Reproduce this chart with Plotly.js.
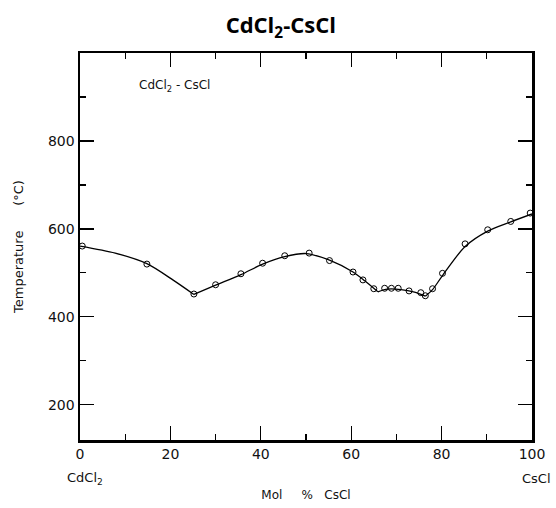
<!DOCTYPE html>
<html><head><meta charset="utf-8">
<script src="https://cdn.plot.ly/plotly-3.0.1.min.js"></script>
<style>html,body{margin:0;padding:0;background:#fff}#chart{width:556px;height:508px}</style>
</head><body><div id="chart"></div>
<script>
// Measured liquidus points (Mol % CsCl, Temperature °C)
const pointsX = [0.5, 14.8, 25.2, 30.0, 35.6, 40.4, 45.3, 50.7, 55.2, 60.4, 62.6, 65.0, 67.4, 68.9, 70.4, 72.8, 75.4, 76.4, 78.0, 80.2, 85.2, 90.2, 95.3, 99.6];
const pointsT = [561, 520, 452, 473, 498, 522, 539, 545, 528, 502, 484, 464, 465, 465, 465, 459, 455, 448, 464, 499, 566, 598, 617, 636];

// Drawn liquidus branches
const branchAX = [0, 7.8, 14.8, 20.7, 25.2];
const branchAT = [561, 545, 521, 483, 451];
const branchBX = [25.2, 30.0, 35.6, 40.4, 45.3, 50.0, 55.2, 60.4, 63.0, 65.9];
const branchBT = [451, 472, 496, 520, 537, 544, 529, 502, 482, 457];
const branchCX = [65.9, 68.0, 71.0, 74.0, 76.4];
const branchCT = [457, 463, 462, 456, 447];
const branchDX = [76.4, 78.0, 80.2, 85.2, 90.2, 95.3, 100];
const branchDT = [447, 462, 494, 560, 595, 616, 634];

const xTickVals = [0, 20, 40, 60, 80, 100];
const xTickText = ['0', '20', '40', '60', '80', '100'];
const yTickVals = [200, 400, 600, 800];
const yTickText = ['200', '400', '600', '800'];

const lineStyle = {color: '#000', width: 1.3, shape: 'spline', smoothing: 0.8};
function branch(x, y) {
  return {x: x, y: y, type: 'scatter', mode: 'lines', line: lineStyle, hoverinfo: 'skip', showlegend: false};
}
const data = [
  branch(branchAX, branchAT),
  branch(branchBX, branchBT),
  branch(branchCX, branchCT),
  branch(branchDX, branchDT),
  {x: pointsX, y: pointsT, type: 'scatter', mode: 'markers', showlegend: false,
   marker: {symbol: 'circle-open', size: 6, color: '#000', line: {width: 1, color: '#000'}}}
];

const fam = 'DejaVu Sans, Liberation Sans, sans-serif';
const layout = {
  width: 556, height: 508,
  margin: {l: 80, r: 24, t: 53, b: 68},
  paper_bgcolor: '#fff', plot_bgcolor: '#fff',
  title: {text: 'CdCl<sub>2</sub>-CsCl', x: 0.505, xanchor: 'center', y: 0.95, yanchor: 'middle',
          font: {family: 'Open Sans, sans-serif', size: 22, color: '#000', weight: 700}},
  xaxis: {
    range: [0, 100], showline: true, linecolor: '#000', linewidth: 2.5, mirror: 'allticks',
    ticks: 'inside', ticklen: 14, tickwidth: 1.2, tickcolor: '#000',
    tickmode: 'array', tickvals: xTickVals, ticktext: xTickText,
    minor: {dtick: 10, tick0: 0, ticks: 'inside', ticklen: 6, tickwidth: 1.2, tickcolor: '#000'},
    showgrid: false, zeroline: false,
    tickfont: {family: fam, size: 14, color: '#111'},
    title: {text: 'Mol\u00a0\u00a0\u00a0\u00a0\u00a0%\u00a0\u00a0\u00a0CsCl', standoff: 30,
            font: {family: fam, size: 12, color: '#111'}}
  },
  yaxis: {
    range: [120, 1000], showline: true, linecolor: '#000', linewidth: 2.5, mirror: 'allticks',
    ticks: 'inside', ticklen: 14, tickwidth: 1.2, tickcolor: '#000',
    tickmode: 'array', tickvals: yTickVals, ticktext: yTickText,
    minor: {dtick: 100, tick0: 0, ticks: 'inside', ticklen: 6, tickwidth: 1.2, tickcolor: '#000'},
    showgrid: false, zeroline: false, ticklabelstandoff: 0,
    tickfont: {family: fam, size: 14, color: '#111'},
    title: {text: 'Temperature\u00a0\u00a0\u00a0\u00a0\u00a0\u00a0(°C)', standoff: 22,
            font: {family: fam, size: 13, color: '#111'}}
  },
  annotations: [
    {text: 'CdCl<sub>2</sub> - CsCl', xref: 'paper', yref: 'paper', x: 0.125, y: 0.915,
     xanchor: 'left', yanchor: 'middle', showarrow: false, font: {family: fam, size: 12, color: '#111'}},
    {text: 'CdCl<sub>2</sub>', xref: 'paper', yref: 'paper', x: 0.01, y: -0.1, xanchor: 'center', yanchor: 'middle',
     showarrow: false, font: {family: fam, size: 13, color: '#111'}},
    {text: 'CsCl', xref: 'paper', yref: 'paper', x: 1.01, y: -0.1, xanchor: 'center', yanchor: 'middle',
     showarrow: false, font: {family: fam, size: 13, color: '#111'}}
  ]
};
Plotly.newPlot('chart', data, layout, {displayModeBar: false, staticPlot: true});
</script></body></html>
